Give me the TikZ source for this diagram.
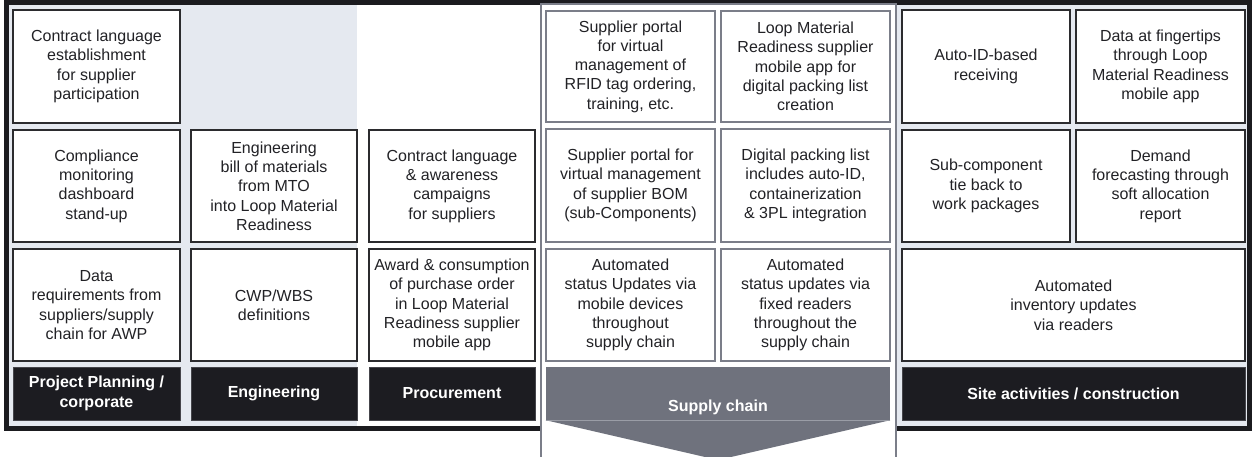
\documentclass[tikz,border=0pt]{standalone}
\usepackage{fontspec}
\setmainfont{Liberation Sans}
\definecolor{framedark}{HTML}{1B1B1F}
\definecolor{lightbg}{HTML}{E5E9F0}
\definecolor{headdark}{HTML}{1C1C21}
\definecolor{headedge}{HTML}{45454B}
\definecolor{scgrey}{HTML}{6F727D}
\definecolor{scline}{HTML}{7B7E89}
\definecolor{scfaint}{HTML}{9A9DA6}
\definecolor{boxline}{HTML}{2B2B2E}
\definecolor{txt}{HTML}{222226}
\begin{document}
\begin{tikzpicture}[x=1pt,y=-1pt,
  cell/.style={draw=boxline, line width=1.3pt, fill=white, inner sep=1pt, align=center, text=txt,
    font=\fontsize{16}{19.3}\selectfont, minimum height=112pt},
  sccell/.style={cell, draw=scline, line width=1.5pt},
  head/.style={fill=headdark, draw=headedge, line width=0.8pt, text=white, align=center,
    font=\fontsize{16}{19.3}\selectfont\bfseries, minimum height=53pt, inner sep=0pt},
  headtext/.style={text=white, font=\fontsize{16}{19.3}\selectfont\bfseries, inner sep=0pt},
  panel/.style={draw=scline, line width=2pt, fill=white}
]
\useasboundingbox (0,0) rectangle (1256,456);
\clip (0,0) rectangle (1256,456);
% outer frame and column backgrounds
\fill[framedark] (4,-5) rectangle (1252,431);
\fill[lightbg] (9,5) rectangle (357,426);
\fill[white] (357,5) rectangle (540,426);
\fill[lightbg] (897,5) rectangle (1247,426);
% supply chain panel
\draw[panel] (541,4) rectangle (896,470);

% Column 1: Project planning
\node[cell, minimum width=167pt, minimum height=113pt] (p1) at (96.5,66.5) {Contract language\\establishment\\for supplier\\participation};
\node[cell, minimum width=167pt] (p2) at (96.5,186) {Compliance\\monitoring\\dashboard\\stand-up};
\node[cell, minimum width=167pt] (p3) at (96.5,305) {Data\\requirements from\\suppliers/supply\\chain for AWP};
\node[head, minimum width=167pt] (ph) at (96.5,393.5) {Project Planning /\\corporate};

% Column 2: Engineering
\node[cell, minimum width=166pt] (e2) at (274,186) {Engineering\\bill of materials\\from MTO\\into Loop Material\\Readiness};
\node[cell, minimum width=166pt] (e3) at (274,305) {CWP/WBS\\definitions};
\node[head, minimum width=166pt] (eh) at (274,393.5) {Engineering};

% Column 3: Procurement
\node[cell, minimum width=166pt] (r2) at (452,186) {Contract language\\\& awareness\\campaigns\\for suppliers};
\node[cell, minimum width=166pt] (r3) at (452,305) {Award \& consumption\\of purchase order\\in Loop Material\\Readiness supplier\\mobile app};
\node[head, minimum width=166pt] (rh) at (452,393.5) {Procurement};

% Supply chain
\node[sccell, minimum width=169pt, minimum height=111pt] (sa1) at (630.5,66.5) {Supplier portal\\for virtual\\management of\\RFID tag ordering,\\training, etc.};
\node[sccell, minimum width=169pt, minimum height=111pt] (sb1) at (805.5,66.5) {Loop Material\\Readiness supplier\\mobile app for\\digital packing list\\creation};
\node[sccell, minimum width=169pt, minimum height=113pt] (sa2) at (630.5,185.5) {Supplier portal for\\virtual management\\of supplier BOM\\(sub-Components)};
\node[sccell, minimum width=169pt, minimum height=113pt] (sb2) at (805.5,185.5) {Digital packing list\\includes auto-ID,\\containerization\\\& 3PL integration};
\node[sccell, minimum width=169pt] (sa3) at (630.5,305) {Automated\\status Updates via\\mobile devices\\throughout\\supply chain};
\node[sccell, minimum width=169pt] (sb3) at (805.5,305) {Automated\\status updates via\\fixed readers\\throughout the\\supply chain};
\node[fill=scgrey, inner sep=0pt, minimum width=344pt, minimum height=53pt] (sch) at (718,393.5) {};
\coordinate (tip) at (718,460);
\fill[scgrey] (sch.south west) -- (sch.south east) -- (tip) -- cycle;
\draw[scfaint, line width=0.6pt] (sch.south west) -- (sch.south east);
\node[headtext] (sct) at (718,407) {Supply chain};

% Site activities / construction
\node[cell, minimum width=168pt, minimum height=113pt] (t1a) at (986,66.5) {Auto-ID-based\\receiving};
\node[cell, minimum width=169pt, minimum height=113pt] (t1b) at (1160.5,66.5) {Data at fingertips\\through Loop\\Material Readiness\\mobile app};
\node[cell, minimum width=168pt] (t2a) at (986,186) {Sub-component\\tie back to\\work packages};
\node[cell, minimum width=169pt] (t2b) at (1160.5,186) {Demand\\forecasting through\\soft allocation\\report};
\node[cell, minimum width=343pt] (t3) at (1073.5,305) {Automated\\inventory updates\\via readers};
\node[head, minimum width=343pt] (th) at (1073.5,393.5) {Site activities / construction};
\end{tikzpicture}
\end{document}
